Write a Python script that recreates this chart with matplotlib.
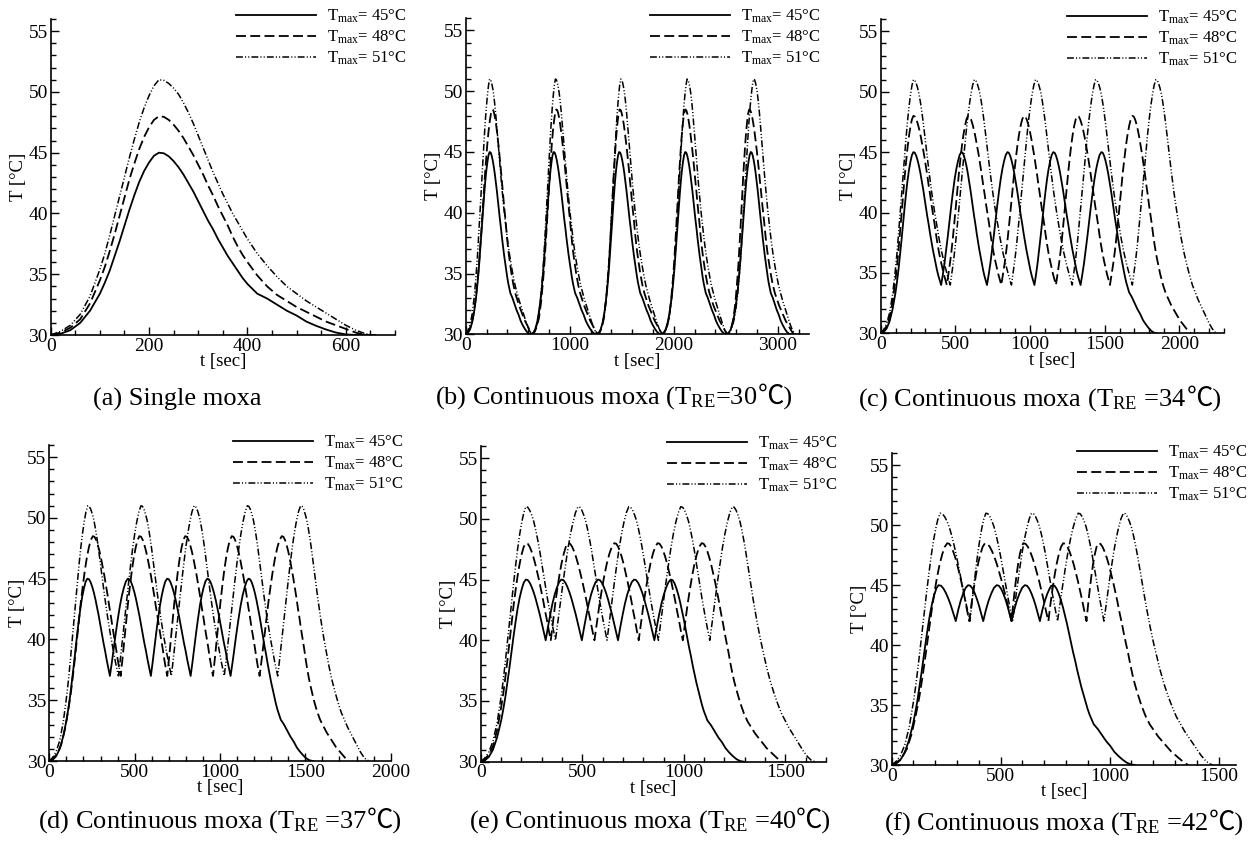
import numpy as np
import matplotlib
matplotlib.use("Agg")
import matplotlib.pyplot as plt
from matplotlib.ticker import MultipleLocator

plt.rcParams.update({
    "font.family": ["Liberation Serif", "Noto Sans CJK SC"],
    "mathtext.fontset": "custom",
    "mathtext.rm": "Liberation Serif",
    "mathtext.it": "Liberation Serif:italic",
    "axes.linewidth": 1.2,
})

W, H = 1251, 842

# Single moxa temperature history for each maximum temperature
PROFILE_T = [0, 20, 40, 60, 80, 100, 110, 120, 130, 140, 150, 160, 170, 180, 190,
             200, 210, 220, 230, 240, 250, 260, 270, 280, 290, 300, 310, 320, 330,
             340, 350, 360, 370, 380, 390, 400, 420, 440, 460, 480, 500, 520, 540,
             560, 580, 600, 620, 640, 660]
SINGLE_45 = [30.0, 30.1, 30.4, 31.0, 32.0, 33.4, 34.3, 35.3, 36.5, 37.7, 39.0, 40.3,
             41.5, 42.6, 43.5, 44.2, 44.75, 45.0, 44.95, 44.7, 44.3, 43.8, 43.2, 42.5,
             41.8, 41.0, 40.2, 39.4, 38.7, 37.9, 37.2, 36.5, 35.9, 35.3, 34.7, 34.2,
             33.4, 33.0, 32.5, 32.0, 31.6, 31.1, 30.75, 30.45, 30.2, 30.05, 30.0, 30.0,
             30.0]
SINGLE_48 = [30.0, 30.2, 30.6, 31.3, 32.6, 34.5, 35.6, 36.9, 38.3, 39.8, 41.3, 42.8,
             44.1, 45.3, 46.3, 47.1, 47.7, 48.0, 47.95, 47.7, 47.3, 46.8, 46.2, 45.5,
             44.8, 44.0, 43.2, 42.3, 41.5, 40.6, 39.8, 39.0, 38.1, 37.3, 36.6, 36.0,
             34.9, 34.0, 33.3, 32.8, 32.3, 31.9, 31.5, 31.1, 30.8, 30.5, 30.2, 30.0,
             30.0]
SINGLE_51 = [30.0, 30.3, 30.8, 31.7, 33.2, 35.4, 36.7, 38.2, 39.8, 41.4, 43.0, 44.6,
             46.1, 47.5, 48.7, 49.7, 50.5, 51.0, 50.95, 50.7, 50.3, 49.8, 49.1, 48.3,
             47.4, 46.4, 45.4, 44.4, 43.4, 42.5, 41.6, 40.8, 40.0, 39.3, 38.6, 37.9,
             36.7, 35.7, 34.8, 34.0, 33.4, 32.8, 32.3, 31.8, 31.3, 30.8, 30.4, 30.1,
             30.0]
T_MAX = [45, 48, 51]

# Continuous moxa: peak times, peak temperatures, re-ignition (valley) times and
# end times for Tmax = 45, 48, 51 degC
B_TRE = 30
B_PEAKS = [[230, 845, 1475, 2110, 2740], [255, 870, 1480, 2110, 2725],
           [230, 862, 1490, 2128, 2767]]
B_TOPS = [45, 48.5, 51]
B_VALLEYS = [[628, 1258, 1880, 2505], [642, 1272, 1895, 2518], [645, 1275, 1900, 2525]]
B_ENDS = [3125, 3157, 3175]

C_TRE = 34
C_PEAKS = [[219, 540, 849, 1156, 1478], [219, 585, 959, 1317, 1686],
           [219, 627, 1037, 1440, 1843]]
C_TOPS = [45, 48, 51]
C_VALLEYS = [[405, 712, 1030, 1339], [443, 808, 1174, 1536], [466, 876, 1283, 1686]]
C_ENDS = [1850, 2078, 2258]

D_TRE = 37
D_PEAKS = [[223, 460, 690, 925, 1167], [255, 528, 796, 1069, 1362],
           [225, 537, 848, 1160, 1472]]
D_TOPS = [45, 48.5, 51]
D_VALLEYS = [[355, 595, 828, 1062], [418, 691, 959, 1232], [405, 715, 1025, 1338]]
D_ENDS = [1545, 1755, 1875]

E_TRE = 40
E_PEAKS = [[222, 397, 577, 755, 936], [222, 430, 658, 871, 1088],
           [222, 479, 729, 985, 1239]]
E_TOPS = [45, 48, 51]
E_VALLEYS = [[320, 498, 676, 855], [345, 560, 778, 995], [368, 622, 875, 1128]]
E_ENDS = [1296, 1484, 1647]

F_TRE = 42
F_PEAKS = [[215, 351, 482, 611, 738], [255, 428, 604, 787, 948],
           [222, 432, 642, 856, 1063]]
F_TOPS = [45, 48.5, 51]
F_VALLEYS = [[294, 420, 550, 680], [356, 550, 719, 894], [359, 555, 761, 974]]
F_ENDS = [1116, 1361, 1476]

STYLES = [
    dict(linestyle="-", lw=1.3),
    dict(linestyle=(0, (5.5, 2.4)), lw=1.3),
    dict(linestyle=(0, (4.5, 1.4, 0.7, 1.4, 0.7, 1.4)), lw=1.1),
]


def pulse_train(profile, t_re, peaks, top, valleys, t_end):
    """Chain single-moxa rises/falls between the given peak and valley times."""
    pt = np.asarray(PROFILE_T, float)
    pv = np.asarray(profile, float)
    ip = int(np.argmax(pv))

    def rise(base, t0, t1):
        i0 = int(np.nonzero(pv[:ip + 1] <= base)[0][-1])
        st, sv = pt[i0:ip + 1], pv[i0:ip + 1]
        tt = t0 + (st - st[0]) / (st[-1] - st[0]) * (t1 - t0)
        vv = base + (sv - sv[0]) / (sv[-1] - sv[0]) * (top - base)
        return tt, vv

    def fall(base, t0, t1):
        i1 = ip + int(np.argmax(pv[ip:] <= base + 1e-9))
        st, sv = pt[ip:i1 + 1], pv[ip:i1 + 1]
        tt = t0 + (st - st[0]) / (st[-1] - st[0]) * (t1 - t0)
        vv = base + (sv - sv[-1]) / (sv[0] - sv[-1]) * (top - base)
        return tt, vv

    parts = [rise(30.0, 0.0, peaks[0])]
    for k, tv in enumerate(valleys):
        parts.append(fall(t_re, peaks[k], tv))
        parts.append(rise(t_re, tv, peaks[k + 1]))
    parts.append(fall(30.0, peaks[-1], t_end))
    ts = np.concatenate([p[0] if i == 0 else p[0][1:] for i, p in enumerate(parts)])
    vs = np.concatenate([p[1] if i == 0 else p[1][1:] for i, p in enumerate(parts)])
    return ts, vs


def axes_px(fig, x0, x1, yb, yt):
    return fig.add_axes([x0 / W, 1 - yb / H, (x1 - x0) / W, (yb - yt) / H])


def style_axes(ax, xmax, xmajor, xminor):
    ax.set_xlim(0, xmax)
    ax.set_ylim(30, 56)
    ax.spines["top"].set_visible(False)
    ax.spines["right"].set_visible(False)
    ax.xaxis.set_major_locator(MultipleLocator(xmajor))
    ax.xaxis.set_minor_locator(MultipleLocator(xminor))
    ax.yaxis.set_minor_locator(MultipleLocator(1))
    ax.set_yticks([30, 35, 40, 45, 50, 55])
    ax.tick_params(which="both", direction="in", top=False, right=False,
                   labelsize=14, width=1.0)
    ax.tick_params(which="major", length=5.5, pad=2)
    ax.tick_params(which="minor", length=3.5)
    ax.set_xlabel("t [sec]", fontsize=13.5, labelpad=-1)
    ax.set_ylabel("T [°C]", fontsize=13.5, labelpad=1)


def add_legend(ax, lines, x_px, y_px):
    ax.legend(lines, [r"T$_\mathregular{max}$= %d°C" % t for t in T_MAX],
              loc="upper left", bbox_to_anchor=(x_px / W, 1 - y_px / H),
              bbox_transform=ax.figure.transFigure, frameon=False, fontsize=12,
              handlelength=4.8, handletextpad=0.65, labelspacing=0.2,
              borderpad=0, borderaxespad=0)


captions = []


def caption(x_px, y_px, head, tail=""):
    # the degree-Celsius sign lives outside the mathtext part so the CJK font can supply it
    t1 = fig.text(0, 0, head, fontsize=19, va="baseline")
    t2 = fig.text(0, 0, tail, fontsize=19, va="baseline")
    captions.append((x_px, y_px, t1, t2))


fig = plt.figure(figsize=(W / 100, H / 100), dpi=100)

# (a) single moxa
ax = axes_px(fig, 50.7, 395, 335, 19)
style_axes(ax, 700, 200, 50)
lines = []
for prof, st in zip([SINGLE_45, SINGLE_48, SINGLE_51], STYLES):
    ln, = ax.plot(PROFILE_T, prof, color="black", **st)
    lines.append(ln)
add_legend(ax, lines, 236, 8)
caption(177, 406, "(a) Single moxa")

panels = [
    ((465.7, 809, 334.3, 18.3), (3300, 1000, 200), B_TRE, B_PEAKS, B_TOPS, B_VALLEYS, B_ENDS,
     (650, 8), (614, 404), "(b) Continuous moxa (T$_\\mathregular{RE}$=30"),
    ((880.7, 1224, 333.3, 19.3), (2300, 500, 100), C_TRE, C_PEAKS, C_TOPS, C_VALLEYS, C_ENDS,
     (1067, 9), (1040, 406), "(c) Continuous moxa (T$_\\mathregular{RE}$ =34"),
    ((49.3, 390.7, 761, 445), (2000, 500, 100), D_TRE, D_PEAKS, D_TOPS, D_VALLEYS, D_ENDS,
     (233, 434), (220, 828), "(d) Continuous moxa (T$_\\mathregular{RE}$ =37"),
    ((480.7, 826, 761.7, 446), (1700, 500, 100), E_TRE, E_PEAKS, E_TOPS, E_VALLEYS, E_ENDS,
     (667, 435), (650, 828), "(e) Continuous moxa (T$_\\mathregular{RE}$ =40"),
    ((891.7, 1236, 765, 453.3), (1580, 500, 100), F_TRE, F_PEAKS, F_TOPS, F_VALLEYS, F_ENDS,
     (1077, 444), (1064, 830), "(f) Continuous moxa (T$_\\mathregular{RE}$ =42"),
]

for (box, xs, t_re, peaks, tops, valleys, ends, leg, cap, title) in panels:
    ax = axes_px(fig, *box)
    style_axes(ax, *xs)
    lines = []
    for prof, st, pk, top, vl, te in zip([SINGLE_45, SINGLE_48, SINGLE_51], STYLES,
                                          peaks, tops, valleys, ends):
        t, v = pulse_train(prof, t_re, pk, top, vl, te)
        ln, = ax.plot(t, v, color="black", **st)
        lines.append(ln)
    add_legend(ax, lines, *leg)
    caption(cap[0], cap[1], title, "℃)")

# centre each two-part caption under its panel
renderer = fig.canvas.get_renderer()
for x_px, y_px, t1, t2 in captions:
    w1 = t1.get_window_extent(renderer).width
    w2 = t2.get_window_extent(renderer).width if t2.get_text() else 0.0
    x0 = x_px - (w1 + w2) / 2
    t1.set_position((x0 / W, 1 - y_px / H))
    t2.set_position(((x0 + w1) / W, 1 - y_px / H))

fig.savefig("out.png", dpi=100)
